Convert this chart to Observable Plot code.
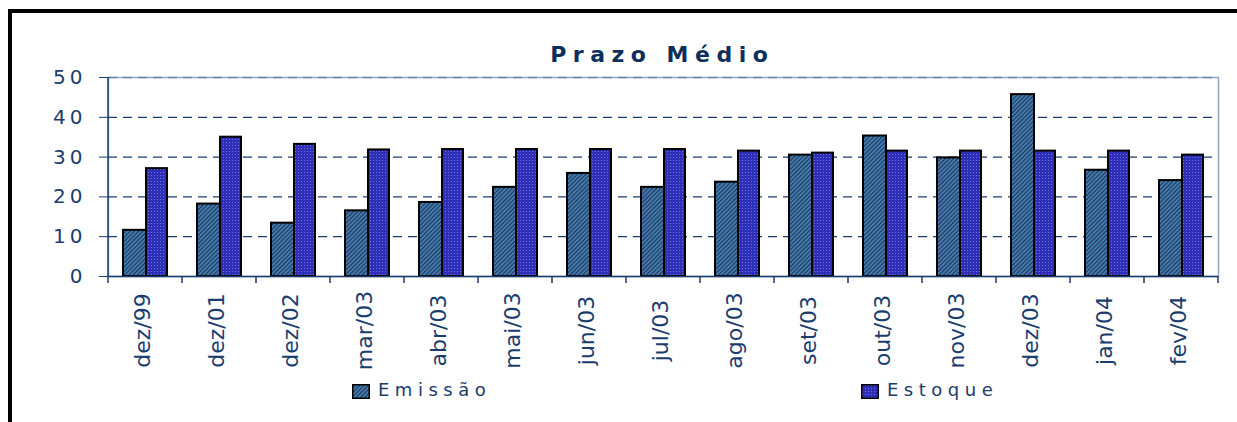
<!DOCTYPE html>
<html>
<head>
<meta charset="utf-8">
<script src="https://cdn.jsdelivr.net/npm/d3@7"></script>
<script src="https://cdn.jsdelivr.net/npm/@observablehq/plot@0.6"></script>
<style>
  html, body { margin: 0; padding: 0; background: #fff; }
  body { width: 1237px; height: 422px; overflow: hidden; position: relative; font-family: "DejaVu Sans", Verdana, sans-serif; }
  #border { position: absolute; left: 8px; top: 9px; width: 1300px; height: 500px; border-top: 4px solid #000; border-left: 4px solid #000; box-sizing: border-box; }
  #chart { position: absolute; left: 0; top: 0; }
  #title { position: absolute; top: 44px; left: 659px; transform: translateX(-50%); font-weight: bold; font-size: 22px; line-height: 22px; letter-spacing: 6.5px; padding-left: 6.5px; color: #0c2f5c; white-space: nowrap; }
  .leg { position: absolute; top: 381px; height: 19px; display: flex; align-items: flex-start; white-space: nowrap; }
  .leg svg { margin-top: 3px; }
  .leg span { font-size: 18px; line-height: 18px; letter-spacing: 5.5px; color: #1a3d6d; margin-left: 8px; }
</style>
</head>
<body>
<div id="border"></div>
<div id="chart"></div>
<div id="title"></div>
<script>
// ---- data ----
const title = "Prazo Médio";
const categories = ["dez/99","dez/01","dez/02","mar/03","abr/03","mai/03","jun/03","jul/03","ago/03","set/03","out/03","nov/03","dez/03","jan/04","fev/04"];
const emissao = [11.6, 18.2, 13.4, 16.5, 18.6, 22.4, 25.9, 22.4, 23.7, 30.5, 35.3, 29.8, 45.7, 26.7, 24.1];
const estoque = [27.1, 35.0, 33.2, 31.8, 31.9, 31.9, 31.9, 31.9, 31.5, 31.0, 31.5, 31.5, 31.5, 31.5, 30.5];
const seriesNames = ["Emissão", "Estoque"];
const yTicks = [0, 10, 20, 30, 40, 50];

const navy = "#1a3d6d";
const rowsE = categories.map((c, i) => ({cat: c, value: emissao[i]}));
const rowsS = categories.map((c, i) => ({cat: c, value: estoque[i]}));

document.getElementById("title").textContent = title;

const plot = Plot.plot({
  width: 1237,
  height: 422,
  marginLeft: 108,
  marginRight: 19,
  marginTop: 77,
  marginBottom: 146,
  style: {fontFamily: "DejaVu Sans, Verdana, sans-serif", color: navy, background: "transparent", overflow: "visible"},
  x: {domain: categories, padding: 0, axis: null},
  y: {domain: [0, 50], axis: null},
  marks: [
    Plot.frame({stroke: "#8fa6bf", strokeWidth: 1.5}),
    Plot.ruleY([10, 20, 30, 40], {stroke: navy, strokeDasharray: "9,6", strokeWidth: 1.2}),
    Plot.ruleY([50], {stroke: "#6d88a8", strokeDasharray: "9,6", strokeWidth: 1.5}),
    Plot.barY(rowsE, {x: "cat", y: "value", fill: "url(#patE)", stroke: "#000", strokeWidth: 2, insetLeft: 15, insetRight: 36}),
    Plot.barY(rowsS, {x: "cat", y: "value", fill: "url(#patS)", stroke: "#000", strokeWidth: 2, insetLeft: 38, insetRight: 15}),
    Plot.ruleY([0], {stroke: navy, strokeWidth: 1.5}),
    Plot.axisY({ticks: yTicks, tickSize: 9, tickPadding: 13, fontSize: 20, color: navy, label: null, tickFormat: d => String(d)}),
    Plot.text(categories, {x: d => d, frameAnchor: "bottom", dy: 54, dx: -3, rotate: -90, textAnchor: "middle", lineAnchor: "middle", fontSize: 22, fill: navy})
  ]
});

const svg = d3.select(plot);
// patterns
const defs = svg.insert("defs", ":first-child");
const pE = defs.append("pattern").attr("id", "patE").attr("width", 3).attr("height", 3)
  .attr("patternUnits", "userSpaceOnUse").attr("patternTransform", "rotate(45)");
pE.append("rect").attr("width", 3).attr("height", 3).attr("fill", "#4479ab");
pE.append("rect").attr("width", 1).attr("height", 3).attr("fill", "#1b3658");
const pS = defs.append("pattern").attr("id", "patS").attr("width", 3).attr("height", 3)
  .attr("patternUnits", "userSpaceOnUse");
pS.append("rect").attr("width", 3).attr("height", 3).attr("fill", "#2e2eb6");
pS.append("rect").attr("x", 1).attr("y", 1).attr("width", 1).attr("height", 1).attr("fill", "#6f6fe6");

// letter spacing on y tick labels
svg.selectAll('g[aria-label="y-axis tick label"] text').style("letter-spacing", "4px");

// x ticks at band boundaries + left axis line
const xs = plot.scale("x"), ys = plot.scale("y");
const bw = xs.bandwidth;
const bounds = categories.map(c => xs.apply(c)).concat([xs.apply(categories[categories.length - 1]) + bw]);
const y0 = ys.apply(0), yTop = ys.apply(50);
const g = svg.append("g").attr("stroke", navy).attr("stroke-width", 1.5);
g.selectAll("line.xt").data(bounds).join("line")
  .attr("x1", d => d).attr("x2", d => d).attr("y1", y0).attr("y2", y0 + 7);
g.append("line").attr("x1", bounds[0]).attr("x2", bounds[0]).attr("y1", yTop).attr("y2", y0);

document.getElementById("chart").appendChild(plot);

// legend
const legendX = [352, 861];
const pats = ["url(#patE)", "url(#patS)"];
seriesNames.forEach((name, i) => {
  const d = document.createElement("div");
  d.className = "leg";
  d.style.left = legendX[i] + "px";
  d.innerHTML = `<svg width="18" height="15"><rect x="0.75" y="0.75" width="16.5" height="13.5" fill="${pats[i]}" stroke="#000" stroke-width="1.5"/></svg><span></span>`;
  d.querySelector("span").textContent = name;
  document.body.appendChild(d);
});
</script>
</body>
</html>
